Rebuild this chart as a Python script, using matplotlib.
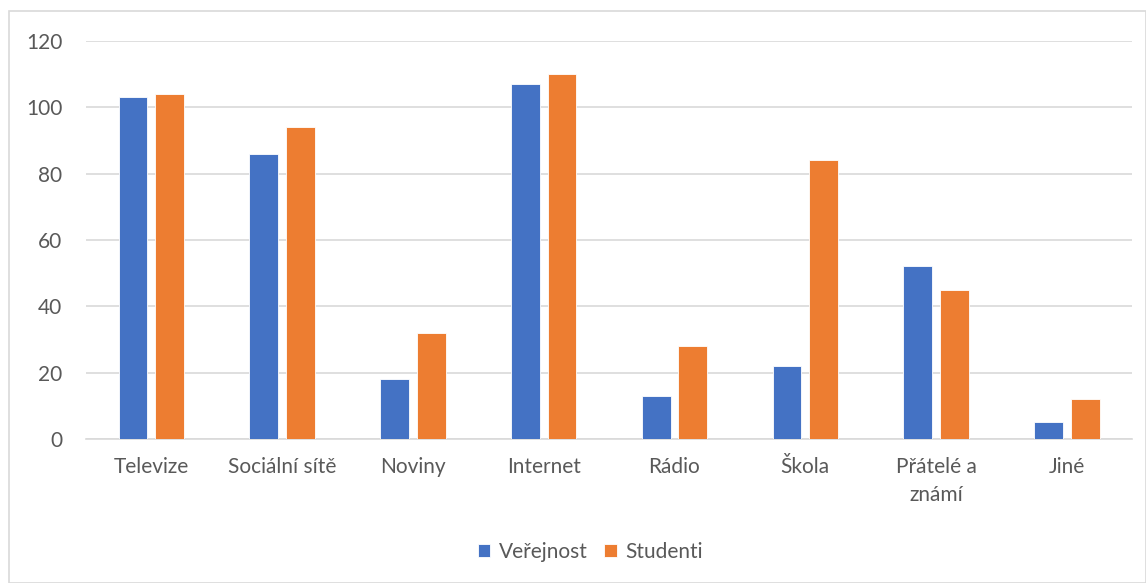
import numpy as np
import matplotlib.pyplot as plt
from matplotlib.patches import Rectangle

categories = ['Televize', 'Sociální sítě', 'Noviny', 'Internet', 'Rádio', 'Škola', 'Přátelé a\nznámí', 'Jiné']
verejnost = [103, 86, 18, 107, 13, 22, 52, 5]
studenti = [104, 94, 32, 110, 28, 84, 45, 12]

plt.rcParams['font.family'] = ['Lato', 'DejaVu Sans']

fig = plt.figure(figsize=(11.46, 5.83), dpi=100)
ax = fig.add_axes([0.075, 0.247, 0.913, 0.683])

# light frame around the whole chart
fig.patches.append(Rectangle((9 / 1146, 0.0), 1 - 9 / 1146, 1 - 11 / 583, transform=fig.transFigure,
                             fill=False, edgecolor='#d9d9d9', linewidth=1.2))

x = np.arange(len(categories))
w = 0.22
ax.bar(x - 0.14, verejnost, w, color='#4472c4', edgecolor='white', linewidth=0.6, label='Veřejnost', zorder=3)
ax.bar(x + 0.14, studenti, w, color='#ed7d31', edgecolor='white', linewidth=0.6, label='Studenti', zorder=3)

ax.set_xlim(-0.5, len(categories) - 0.5)
ax.set_ylim(0, 120)
ax.set_yticks(range(0, 121, 20))
ax.set_xticks(x)
ax.set_xticklabels(categories, linespacing=1.5)
ax.yaxis.grid(True, color='#d9d9d9', linewidth=1.2, zorder=0)
for s in ['top', 'right', 'left']:
    ax.spines[s].set_visible(False)
ax.spines['bottom'].set_color('#d9d9d9')
ax.spines['bottom'].set_linewidth(1.2)
ax.tick_params(length=0, labelsize=15, colors='#595959', pad=13)
ax.tick_params(axis='y', pad=17)

ax.legend(loc='center', bbox_to_anchor=(0.482, -0.284), ncol=2, frameon=False,
          fontsize=15, labelcolor='#595959', handlelength=0.6, handleheight=0.6,
          columnspacing=0.8, handletextpad=0.4)

fig.savefig('out.png')
